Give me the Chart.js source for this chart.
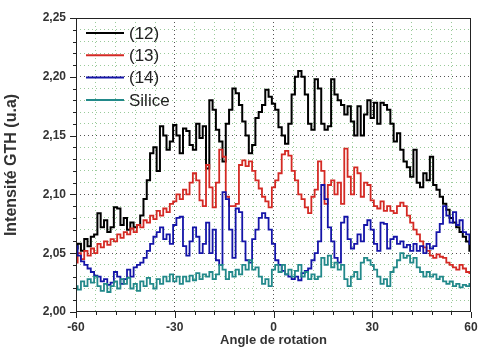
<!DOCTYPE html>
<html>
<head>
<meta charset="utf-8">
<script src="https://cdn.jsdelivr.net/npm/chart.js@4.4.0/dist/chart.umd.min.js"></script>
<style>
  html, body { margin: 0; padding: 0; background: #fff; }
  #wrap { width: 478px; height: 350px; }
</style>
</head>
<body>
<div id="wrap"><canvas id="myChart" width="478" height="350"></canvas></div>
<script>
// angles (degrees), one point per degree
var angles = [
  -60,-59,-58,-57,-56,-55,-54,-53,-52,-51,
  -50,-49,-48,-47,-46,-45,-44,-43,-42,-41,
  -40,-39,-38,-37,-36,-35,-34,-33,-32,-31,
  -30,-29,-28,-27,-26,-25,-24,-23,-22,-21,
  -20,-19,-18,-17,-16,-15,-14,-13,-12,-11,
  -10,-9,-8,-7,-6,-5,-4,-3,-2,-1,
  0,1,2,3,4,5,6,7,8,9,
  10,11,12,13,14,15,16,17,18,19,
  20,21,22,23,24,25,26,27,28,29,
  30,31,32,33,34,35,36,37,38,39,
  40,41,42,43,44,45,46,47,48,49,
  50,51,52,53,54,55,56,57,58,59,
  60];

var s12 = [
  2.054,2.058,2.052,2.062,2.056,2.064,2.066,2.084,2.072,2.078,
  2.068,2.072,2.089,2.088,2.074,2.080,2.070,2.076,2.072,2.074,
  2.082,2.096,2.112,2.135,2.140,2.120,2.158,2.150,2.138,2.145,
  2.159,2.150,2.135,2.156,2.154,2.142,2.138,2.160,2.148,2.158,
  2.122,2.180,2.172,2.155,2.145,2.128,2.160,2.172,2.190,2.186,
  2.176,2.162,2.150,2.135,2.142,2.165,2.170,2.176,2.189,2.183,
  2.177,2.172,2.157,2.150,2.143,2.160,2.185,2.200,2.205,2.200,
  2.185,2.160,2.155,2.198,2.190,2.160,2.155,2.158,2.198,2.185,
  2.180,2.176,2.168,2.175,2.162,2.150,2.175,2.150,2.168,2.180,
  2.165,2.178,2.160,2.178,2.176,2.172,2.160,2.145,2.152,2.138,
  2.128,2.123,2.115,2.138,2.110,2.106,2.118,2.112,2.132,2.108,
  2.104,2.098,2.092,2.087,2.080,2.076,2.072,2.068,2.064,2.060,
  2.052];

var s13 = [
  2.042,2.050,2.045,2.052,2.048,2.054,2.050,2.058,2.055,2.060,
  2.057,2.062,2.060,2.066,2.063,2.068,2.066,2.071,2.068,2.074,
  2.072,2.078,2.076,2.082,2.079,2.086,2.082,2.088,2.085,2.092,
  2.094,2.100,2.096,2.104,2.100,2.110,2.118,2.112,2.095,2.090,
  2.125,2.106,2.089,2.110,2.138,2.132,2.098,2.090,2.090,2.092,
  2.125,2.129,2.124,2.128,2.120,2.112,2.105,2.098,2.094,2.089,
  2.106,2.112,2.118,2.134,2.137,2.133,2.120,2.112,2.100,2.096,
  2.089,2.084,2.098,2.104,2.128,2.120,2.092,2.108,2.112,2.100,
  2.110,2.092,2.139,2.115,2.100,2.123,2.118,2.098,2.110,2.108,
  2.095,2.090,2.088,2.094,2.086,2.090,2.086,2.084,2.090,2.093,
  2.090,2.082,2.076,2.070,2.066,2.060,2.055,2.052,2.048,2.046,
  2.049,2.047,2.046,2.042,2.040,2.038,2.036,2.040,2.037,2.034,
  2.033];

var s14 = [
  2.056,2.048,2.043,2.040,2.037,2.034,2.031,2.030,2.026,2.028,
  2.023,2.025,2.034,2.030,2.024,2.028,2.036,2.030,2.038,2.040,
  2.042,2.046,2.052,2.058,2.064,2.068,2.072,2.062,2.066,2.058,
  2.074,2.080,2.081,2.056,2.048,2.060,2.072,2.064,2.050,2.058,
  2.076,2.050,2.070,2.044,2.040,2.102,2.096,2.070,2.046,2.088,
  2.085,2.060,2.044,2.042,2.062,2.070,2.080,2.084,2.080,2.070,
  2.058,2.044,2.040,2.035,2.032,2.030,2.028,2.030,2.027,2.033,
  2.035,2.037,2.044,2.050,2.060,2.108,2.096,2.072,2.060,2.046,
  2.042,2.076,2.081,2.062,2.054,2.058,2.066,2.060,2.074,2.078,
  2.070,2.058,2.052,2.076,2.075,2.054,2.062,2.064,2.058,2.060,
  2.055,2.057,2.052,2.058,2.052,2.056,2.050,2.058,2.054,2.056,
  2.068,2.075,2.090,2.082,2.076,2.085,2.074,2.078,2.068,2.066,
  2.058];

var silice = [
  2.022,2.019,2.026,2.022,2.028,2.025,2.030,2.022,2.018,2.024,
  2.017,2.022,2.026,2.020,2.028,2.024,2.029,2.020,2.024,2.018,
  2.026,2.022,2.029,2.024,2.020,2.028,2.024,2.030,2.026,2.032,
  2.026,2.030,2.024,2.030,2.026,2.031,2.027,2.033,2.028,2.032,
  2.030,2.034,2.028,2.032,2.040,2.036,2.028,2.034,2.030,2.036,
  2.032,2.040,2.036,2.044,2.036,2.038,2.030,2.024,2.028,2.022,
  2.036,2.040,2.034,2.040,2.032,2.036,2.030,2.035,2.040,2.030,
  2.034,2.028,2.032,2.028,2.030,2.046,2.040,2.048,2.038,2.042,
  2.036,2.040,2.028,2.022,2.030,2.034,2.028,2.042,2.046,2.044,
  2.040,2.036,2.030,2.024,2.028,2.022,2.034,2.038,2.044,2.050,
  2.046,2.048,2.042,2.046,2.038,2.034,2.030,2.034,2.030,2.032,
  2.028,2.030,2.026,2.024,2.026,2.022,2.024,2.021,2.023,2.022,
  2.024];

var labels = ['(12)', '(13)', '(14)', 'Silice'];
var colors = ['#000000', '#d42a24', '#1414a8', '#22898a'];
var series = [s12, s13, s14, silice];

function pts(ys) {
  return angles.map(function (a, i) { return {x: a, y: ys[i]}; });
}

var datasets = series.map(function (ys, i) {
  return {
    label: labels[i],
    data: pts(ys),
    borderColor: colors[i],
    borderWidth: i === 0 ? 2 : 1.8,
    pointRadius: 0,
    stepped: 'middle',
    fill: false
  };
});
// draw black on top
datasets.reverse();

var FONT = 'Liberation Sans, Arial, sans-serif';

// frame, ticks and legend
var extras = {
  id: 'extras',
  afterDatasetsDraw: function (chart) {
    var c = chart.ctx, a = chart.chartArea;
    var xs = chart.scales.x, ys = chart.scales.y;
    c.save();
    c.strokeStyle = '#222';
    c.lineWidth = 1;
    c.strokeRect(a.left + 0.5, a.top + 0.5, a.right - a.left - 1, a.bottom - a.top - 1);
    c.beginPath();
    for (var v = -60; v <= 60; v += 6) {
      var px = Math.round(xs.getPixelForValue(v)) + 0.5;
      var len = (v % 30 === 0) ? 6 : 3;
      c.moveTo(px, a.bottom); c.lineTo(px, a.bottom + len);
    }
    for (var k = 0; k <= 25; k++) {
      var py = Math.round(ys.getPixelForValue(2 + k / 100)) + 0.5;
      var l2 = (k % 5 === 0) ? 6 : 3;
      c.moveTo(a.left, py); c.lineTo(a.left - l2, py);
    }
    c.stroke();
    // legend
    c.font = '17px ' + FONT;
    c.textBaseline = 'middle';
    for (var i = 0; i < labels.length; i++) {
      var y = 33 + i * 22.3;
      c.strokeStyle = colors[i];
      c.lineWidth = 2;
      c.beginPath();
      c.moveTo(86, y); c.lineTo(124, y);
      c.stroke();
      c.fillStyle = '#222';
      c.fillText(labels[i], 129, y + 1);
    }
    c.restore();
  }
};

var ctx = document.getElementById('myChart');
var myChart = new Chart(ctx, {
  type: 'line',
  data: { datasets: datasets },
  options: {
    responsive: false,
    animation: false,
    layout: { padding: { left: 0, top: 18, right: 7, bottom: 0 } },
    plugins: { legend: { display: false }, tooltip: { enabled: false } },
    scales: {
      x: {
        type: 'linear',
        min: -60, max: 60,
        afterFit: function (s) { s.height = 38; s.paddingLeft = 0; s.paddingRight = 0; },
        grid: {
          drawTicks: false,
          color: function (c) {
            var v = c.tick.value;
            if (v === -60 || v === 60) return 'rgba(0,0,0,0)';
            return v % 30 === 0 ? 'rgba(40,40,40,0.8)' : 'rgba(110,180,110,0.7)';
          }
        },
        border: { display: false, dash: [1, 3] },
        ticks: {
          stepSize: 6,
          autoSkip: false,
          maxRotation: 0,
          padding: 8,
          color: '#333',
          font: { family: FONT, size: 12, weight: 'bold' },
          callback: function (v) { return v % 30 === 0 ? String(v) : ''; }
        },
        title: {
          display: true,
          text: 'Angle de rotation',
          color: '#333',
          font: { family: FONT, size: 13, weight: 'bold' },
          padding: { top: 0, bottom: 2 }
        }
      },
      y: {
        min: 2.0, max: 2.25,
        afterFit: function (s) { s.width = 76; s.paddingTop = 0; s.paddingBottom = 0; },
        grid: {
          drawTicks: false,
          color: function (c) {
            var k = Math.round(c.tick.value * 100);
            if (k === 200 || k === 225) return 'rgba(0,0,0,0)';
            return k % 5 === 0 ? 'rgba(40,40,40,0.8)' : 'rgba(110,180,110,0.7)';
          }
        },
        border: { display: false, dash: [1, 3] },
        ticks: {
          stepSize: 0.01,
          autoSkip: false,
          padding: 10,
          color: '#333',
          font: { family: FONT, size: 12, weight: 'bold' },
          callback: function (v) {
            var k = Math.round(v * 100);
            return k % 5 === 0 ? (k / 100).toFixed(2).replace('.', ',') : '';
          }
        },
        title: {
          display: true,
          text: 'Intensité GTH (u.a)',
          color: '#333',
          font: { family: FONT, size: 16, weight: 'bold' },
          padding: { top: 2, bottom: 0 }
        }
      }
    }
  },
  plugins: [extras]
});
</script>
</body>
</html>
